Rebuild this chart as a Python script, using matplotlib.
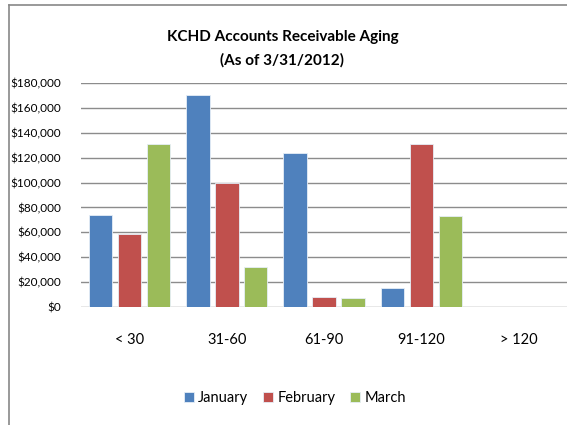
import matplotlib.pyplot as plt
import numpy as np
from matplotlib.lines import Line2D
from matplotlib.ticker import FuncFormatter

categories = ["< 30", "31-60", "61-90", "91-120", "> 120"]
series = ["January", "February", "March"]
january = [74000, 170000, 124000, 15000, 0]
february = [59000, 100000, 8000, 131000, 0]
march = [131000, 32000, 7500, 73000, 0]
colors = ["#4F81BD", "#C0504D", "#9BBB59"]

plt.rcParams['font.family'] = ['Lato', 'DejaVu Sans']

fig = plt.figure(figsize=(5.67, 4.25), dpi=100)
ax = fig.add_axes([0.143, 0.2776, 0.857, 0.5271])

x = np.arange(len(categories))
offsets = [-0.298, 0, 0.298]
for vals, off, col, name in zip([january, february, march], offsets, colors, series):
    ax.bar(x + off, vals, width=0.24, color=col, edgecolor="#E6EEF7", linewidth=0.6,
           label=name, zorder=3)

ax.set_xlim(-0.5, len(categories) - 0.5)
ax.set_ylim(0, 180000)
ax.set_yticks(np.arange(0, 180001, 20000))
ax.yaxis.set_major_formatter(FuncFormatter(lambda v, p: "$0" if v == 0 else f"${int(v):,}"))
ax.grid(axis="y", color="#8C8C8C", linewidth=1, zorder=0)
ax.set_xticks(x)
ax.set_xticklabels(categories, fontsize=10.5)
ax.tick_params(axis="x", length=0, pad=19)
ax.tick_params(axis="y", length=0, pad=14.5, labelsize=8.5)
for s in ax.spines.values():
    s.set_visible(False)

fig.text(0.498, 0.913, "KCHD Accounts Receivable Aging", ha="center", va="center",
         fontsize=11, fontweight="bold")
fig.text(0.498, 0.858, "(As of 3/31/2012)", ha="center", va="center",
         fontsize=11, fontweight="bold")

ax.legend(loc="center", bbox_to_anchor=(0.52, 0.063), bbox_transform=fig.transFigure,
          ncol=3, frameon=False, fontsize=10.5, handlelength=0.7, handleheight=0.7,
          handletextpad=0.3, columnspacing=1.0)

# outer chart border (left and top)
fig.add_artist(Line2D([0.016, 0.016], [0.0, 0.988], color="#888888", linewidth=1.2,
                      transform=fig.transFigure))
fig.add_artist(Line2D([0.016, 1.0], [0.988, 0.988], color="#888888", linewidth=1.2,
                      transform=fig.transFigure))

fig.savefig("out.png", dpi=100)
